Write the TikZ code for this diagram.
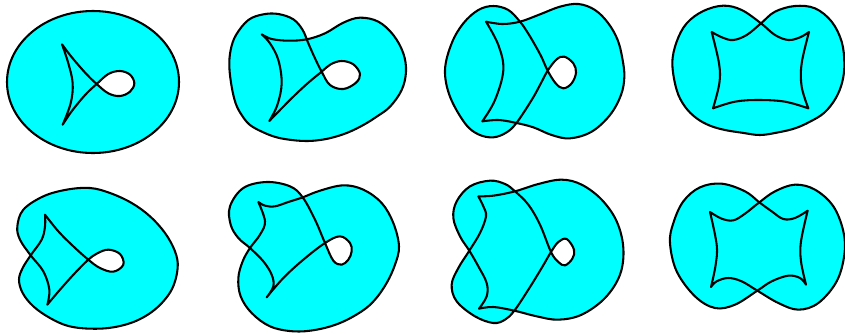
\documentclass[tikz,border=0pt]{standalone}
\definecolor{aqua}{RGB}{0,255,255}
\tikzset{
  curve/.style={black,line width=1.55pt,line join=round,line cap=round},
  area/.style={fill=aqua},
  hole/.style={fill=white},
  sm/.style={smooth,tension=.6}
}
\begin{document}
\begin{tikzpicture}[x=0.25pt,y=-0.25pt]
\useasboundingbox (0,0) rectangle (2535,999);
% ---- panel 1
\begin{scope}
\def\inner{plot[sm] coordinates {(186,133) (210,165) (235,195) (262,225) (290,252) (325,280) (360,288) (390,275) (403,250) (390,224) (360,213) (325,222) (290,252) (262,278) (238,305) (212,338) (188,374)} -- plot[sm] coordinates {(188,374) (212,310) (218,250) (205,190) (186,133)}}
\fill[area] (279,246) ellipse [x radius=258,y radius=213];
\fill[hole] plot[sm] coordinates {(290,252) (325,280) (360,288) (390,275) (403,250) (390,224) (360,213) (325,222) (290,252)};
\draw[curve] (279,246) ellipse [x radius=258,y radius=213];
\draw[curve] \inner;
\end{scope}
% ---- panel 2
\begin{scope}
\def\one{plot[sm] coordinates {(785,103) (815,117) (865,122) (920,118) (975,100) (1030,68) (1080,53) (1135,65) (1180,105) (1210,160) (1218,215) (1205,270) (1170,320) (1130,350) (1090,375) (1045,397) (1000,412) (960,420) (920,423) (875,420) (830,412) (790,397) (750,375) (725,345) (707,310) (695,260) (688,200) (692,150) (708,105) (745,60) (790,43) (835,42) (880,58) (908,90) (925,130) (945,175) (965,215) (990,255) (1030,267) (1068,248) (1080,222) (1060,193) (1025,183) (992,193) (965,215) (925,248) (885,285) (845,325) (808,363)} -- plot[sm] coordinates {(808,363) (832,315) (845,250) (835,180) (810,130) (785,103)}}
\fill[area] \one;
\fill[hole] plot[sm] coordinates {(965,215) (990,255) (1030,267) (1068,248) (1080,222) (1060,193) (1025,183) (992,193) (965,215)};
\draw[curve] \one;
\end{scope}
% ---- panel 3
\begin{scope}[shift={(1275,0)}]
\def\one{plot[sm] coordinates {(183,65) (232,72) (285,65) (345,43) (405,20) (460,12) (510,30) (550,70) (578,120) (592,175) (598,230) (588,285) (555,345) (500,395) (435,415) (380,405) (325,382) (270,368) (220,360) (172,364)} -- plot[sm] coordinates {(172,364) (210,300) (235,210) (220,135) (183,65)}}
\def\two{plot[smooth cycle,tension=.6] coordinates {(285,65) (250,30) (205,18) (160,30) (115,70) (80,130) (60,210) (75,290) (120,370) (160,403) (205,412) (245,397) (275,368) (320,300) (345,255) (368,212) (395,178) (418,170) (445,190) (453,218) (440,250) (415,265) (392,250) (368,212) (350,172) (330,135) (308,98)}}
\fill[area] \one;
\fill[area] \two;
\fill[hole] plot[sm] coordinates {(368,212) (395,178) (418,170) (445,190) (453,218) (440,250) (415,265) (392,250) (368,212)};
\draw[curve] \one;
\draw[curve] \two;
\end{scope}
% ---- panel 4
\begin{scope}[shift={(1275,0)}]
\def\one{plot[sm] coordinates {(860,96) (893,113) (925,120) (965,105) (1008,70) (1050,35) (1110,18) (1170,25) (1220,65) (1250,125) (1258,190) (1252,245) (1232,295) (1198,338) (1155,365) (1110,385) (1060,397) (1005,405) (950,398) (900,390) (855,377) (815,355) (780,320) (755,270) (742,190) (755,125) (785,70) (835,33) (895,17) (950,30) (1008,70) (1050,105) (1090,120) (1125,112) (1152,96)} -- plot[sm] coordinates {(1152,96) (1130,190) (1130,260) (1150,325)} -- plot[sm] coordinates {(1150,325) (1080,305) (1000,300) (930,305) (864,325)} -- plot[sm] coordinates {(864,325) (883,250) (882,190) (860,96)}}
\fill[area] \one;
\draw[curve] \one;
\end{scope}
% ---- panel 5
\begin{scope}[shift={(0,504)}]
\def\one{plot[sm] coordinates {(135,140) (175,190) (220,235) (265,275) (300,300) (340,311) (370,290) (360,258) (325,245) (292,256) (265,275) (225,315) (180,365) (142,410)} -- plot[sm] coordinates {(142,410) (148,365) (130,310) (92,262) (60,215) (52,175) (70,125) (130,85) (200,65) (270,60) (330,75) (395,105) (450,145) (495,195) (525,250) (533,300) (515,365) (470,420) (410,458) (340,478) (270,482) (205,474) (150,450) (100,415) (68,375) (57,335) (68,300) (92,262) (125,215) (135,175) (135,140)}}
\fill[area] \one;
\fill[hole] plot[sm] coordinates {(265,275) (300,300) (340,311) (370,290) (360,258) (325,245) (292,256) (265,275)};
\draw[curve] \one;
\end{scope}
% ---- panel 6
\begin{scope}[shift={(0,504)}]
\def\one{plot[sm] coordinates {(775,102) (795,113) (825,115) (865,102) (908,88) (960,68) (1030,52) (1090,65) (1145,105) (1180,165) (1197,235) (1185,290) (1160,345) (1125,395) (1085,430) (1020,465) (950,485) (880,490) (810,475) (755,435) (722,385) (715,330) (728,280) (750,240) (780,200) (795,160) (775,102)}}
\def\two{plot[sm] coordinates {(800,388) (850,330) (910,275) (975,225) (1020,205) (1050,225) (1055,250) (1045,275) (1025,290) (1000,278) (975,225) (945,155) (908,88) (870,55) (800,42) (730,60) (690,115) (692,170) (715,210) (750,240) (790,280) (815,320) (820,355) (800,388)}}
\fill[area] \one;
\fill[area] \two;
\fill[hole] plot[sm] coordinates {(975,225) (1020,205) (1050,225) (1055,250) (1045,275) (1025,290) (1000,278) (975,225)};
\draw[curve] \one;
\draw[curve] \two;
\end{scope}
% ---- panel 7
\begin{scope}[shift={(1275,504)}]
\def\one{plot[sm] coordinates {(160,85) (205,83) (270,70) (340,48) (410,35) (470,50) (530,95) (575,160) (595,240) (585,320) (540,390) (470,440) (400,455) (335,445) (268,428) (205,417) (162,422)} -- plot[sm] coordinates {(162,422) (185,385) (185,345) (160,295) (133,248) (105,205) (85,150) (95,100) (135,55) (195,38) (240,48) (270,70) (310,110) (345,170) (378,252) (400,282) (420,292) (442,272) (447,245) (425,213) (400,222) (378,252) (350,300) (310,365) (268,428) (240,455) (205,465) (150,445) (95,400) (80,350) (100,300) (133,248) (165,195) (183,145) (175,115) (160,85)}}
\fill[area] \one;
\fill[hole] plot[sm] coordinates {(378,252) (400,282) (420,292) (442,272) (447,245) (425,213) (400,222) (378,252)};
\draw[curve] \one;
\end{scope}
% ---- panel 8
\begin{scope}[shift={(1275,504)}]
\def\one{plot[sm] coordinates {(855,132) (890,152) (925,157) (960,137) (1003,103) (1050,70) (1110,50) (1170,65) (1225,115) (1255,190) (1258,260) (1235,340) (1180,405) (1120,425) (1060,405) (997,368) (950,340) (910,330) (875,340) (858,357)} -- plot[sm] coordinates {(858,357) (872,290) (875,230) (855,132)}}
\def\two{plot[sm] coordinates {(1148,128) (1110,150) (1075,153) (1040,130) (1003,103) (960,70) (890,47) (825,58) (775,100) (745,165) (735,225) (755,310) (810,385) (870,420) (930,410) (997,368) (1040,340) (1090,323) (1125,330) (1143,350)} -- plot[sm] coordinates {(1143,350) (1128,280) (1128,220) (1148,128)}}
\fill[area] \one;
\fill[area] \two;
\draw[curve] \one;
\draw[curve] \two;
\end{scope}
\end{tikzpicture}
\end{document}
